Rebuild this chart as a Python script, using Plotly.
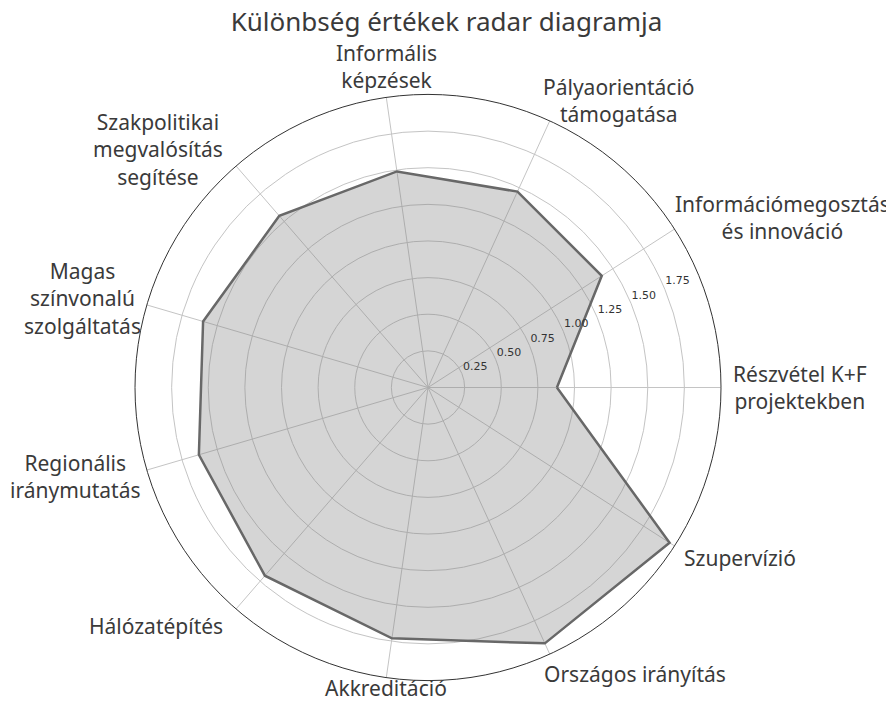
import math
import plotly.graph_objects as go

categories = [
    "Részvétel K+F<br>projektekben",
    "Információmegosztás<br>és innováció",
    "Pályaorientáció<br>támogatása",
    "Informális<br>képzések",
    "Szakpolitikai<br>megvalósítás<br>segítése",
    "Magas<br>színvonalú<br>szolgáltatás",
    "Regionális<br>iránymutatás",
    "Hálózatépítés",
    "Akkreditáció",
    "Országos irányítás",
    "Szupervízió",
]
values = [0.88, 1.41, 1.47, 1.49, 1.55, 1.60, 1.63, 1.70, 1.73, 1.92, 1.96]
radial_ticks = [0.25, 0.50, 0.75, 1.00, 1.25, 1.50, 1.75]
radial_tick_labels = ["0.25", "0.50", "0.75", "1.00", "1.25", "1.50", "1.75"]
title_text = "Különbség értékek radar diagramja"

n = len(categories)
angles = [i * 360.0 / n for i in range(n)]
r_max = 2.0

fig = go.Figure()
fig.add_trace(go.Scatterpolar(
    r=values + [values[0]],
    theta=angles + [angles[0]],
    mode="lines",
    fill="toself",
    fillcolor="rgba(128,128,128,0.33)",
    line=dict(color="#686868", width=2.5),
    hoverinfo="skip",
    showlegend=False,
))
# radial tick labels along ~22.5 degrees
fig.add_trace(go.Scatterpolar(
    r=[t + 0.1 for t in radial_ticks],
    theta=[23] * len(radial_ticks),
    mode="text",
    text=radial_tick_labels,
    textposition="middle center",
    textfont=dict(family="DejaVu Sans", size=11, color="#333333"),
    hoverinfo="skip",
    showlegend=False,
))

# the page body has an 8px margin, so the figure is sized to fit the window
W, H = 886, 694
cx, cy, R = 420, 379.5, 293

annotations = []
for lab, ang in zip(categories, angles):
    a = math.radians(ang)
    c, s = math.cos(a), math.sin(a)
    if abs(c) < 0.2:
        xa = "center"
        px = cx + R * c
        if s > 0:
            ya, py = "bottom", cy - (R + 1) * s
        else:
            ya, py = "top", cy - (R - 6) * s
    else:
        if c > 0:
            xa = "left"
            gap = 12 - 20 * abs(s) if s > 0 else 12 - 25 * s ** 4
            px = cx + R * c + gap - 2.5
        else:
            xa = "right"
            gap = 2 + 15 * abs(s)
            px = cx + R * c - gap + 2.5
        ya, py = "middle", cy - (R + 22) * s
    annotations.append(dict(
        text=lab, x=px / W, y=1 - py / H, xref="paper", yref="paper",
        xanchor=xa, yanchor=ya, align="center", showarrow=False,
        font=dict(family="Noto Sans", size=21, color="#3a3a3a"),
    ))

fig.update_layout(
    width=W, height=H,
    margin=dict(l=0, r=0, t=0, b=0),
    paper_bgcolor="white",
    plot_bgcolor="white",
    title=dict(text=title_text, x=438.5 / W, xanchor="center", y=1 - 14 / H, yanchor="middle",
               font=dict(family="Noto Sans", size=26, color="#3a3a3a")),
    annotations=annotations,
    polar=dict(
        domain=dict(x=[(cx - R) / W, (cx + R) / W], y=[1 - (cy + R) / H, 1 - (cy - R) / H]),
        bgcolor="white",
        radialaxis=dict(range=[0, r_max], tickvals=radial_ticks, showticklabels=False,
                        ticks="", showline=False, gridcolor="#c4c4c4", gridwidth=1),
        angularaxis=dict(tickmode="array", tickvals=angles, showticklabels=False,
                         direction="counterclockwise", rotation=0, thetaunit="degrees",
                         showline=True, linecolor="#333333", linewidth=1,
                         gridcolor="#c4c4c4", gridwidth=1, ticks=""),
    ),
)
fig.write_html("out.html")
